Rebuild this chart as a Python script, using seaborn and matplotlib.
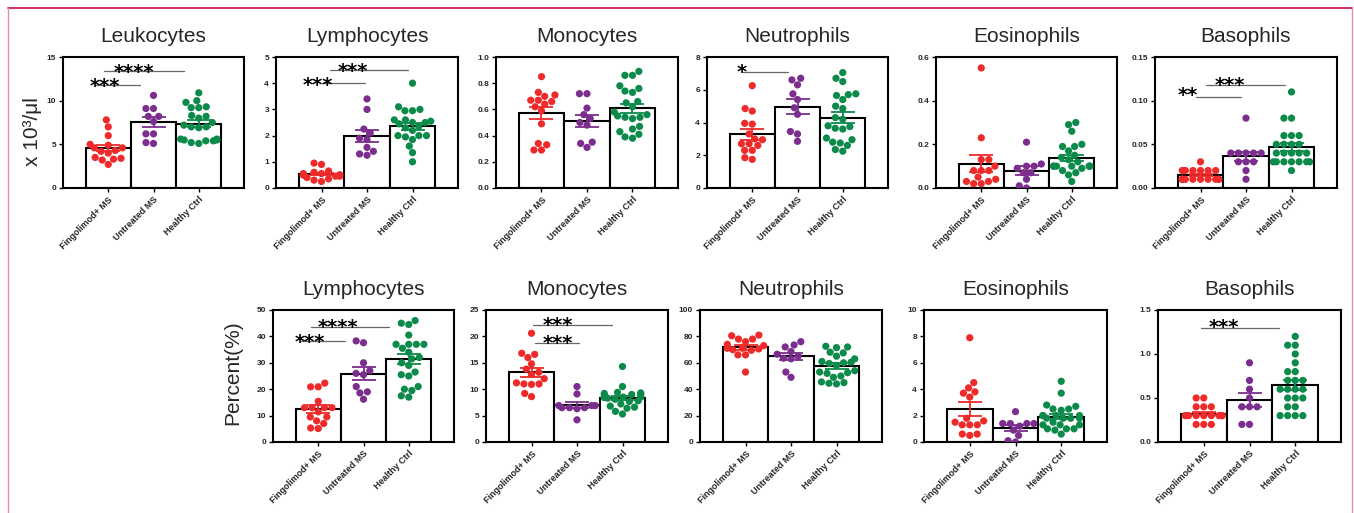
import warnings
import pandas as pd
import matplotlib.pyplot as plt
from matplotlib.lines import Line2D
import seaborn as sns

warnings.filterwarnings("ignore")
sns.set_theme(style="ticks")
plt.rcParams["font.family"] = ["Liberation Sans", "DejaVu Sans"]

GROUPS = ["Fingolimod+ MS", "Untreated MS", "Healthy Ctrl"]
COLORS = {"Fingolimod+ MS": "#ee2a2a", "Untreated MS": "#7b2e8e", "Healthy Ctrl": "#0b8a4a"}

# --- absolute counts (x 10^3/ul) ---
leuk_fingo = [7.8, 7.0, 6.0, 5.0, 4.9, 4.6, 4.6, 4.3, 4.2, 4.0, 3.5, 3.4, 3.2, 3.3, 2.7]
leuk_untr = [10.6, 9.1, 9.1, 8.2, 8.2, 7.6, 6.2, 6.2, 5.1, 5.2]
leuk_hc = [10.9, 10.0, 9.8, 9.3, 9.2, 9.2, 8.3, 8.2, 8.0, 7.5, 7.2, 7.0, 6.9, 7.0,
           5.6, 5.5, 5.5, 5.2, 5.1, 5.4, 5.4, 5.6]

lymph_fingo = [0.95, 0.9, 0.65, 0.6, 0.55, 0.55, 0.5, 0.5, 0.5, 0.5, 0.45, 0.45, 0.4, 0.35, 0.3, 0.25]
lymph_untr = [3.4, 3.0, 2.25, 2.1, 1.9, 1.85, 1.55, 1.4, 1.3, 1.25]
lymph_hc = [4.0, 3.1, 3.0, 2.95, 2.95, 2.6, 2.6, 2.55, 2.5, 2.5, 2.45, 2.35, 2.3, 2.2,
            2.0, 2.0, 2.0, 1.95, 1.85, 1.6, 1.35, 1.0]

mono_fingo = [0.85, 0.73, 0.71, 0.70, 0.67, 0.67, 0.66, 0.64, 0.62, 0.59, 0.49, 0.34, 0.33, 0.29, 0.29]
mono_untr = [0.72, 0.72, 0.61, 0.56, 0.53, 0.50, 0.48, 0.35, 0.34, 0.31]
mono_hc = [0.89, 0.86, 0.86, 0.78, 0.76, 0.74, 0.73, 0.66, 0.65, 0.62, 0.58, 0.56, 0.55,
           0.54, 0.54, 0.53, 0.47, 0.45, 0.43, 0.41, 0.39, 0.38]

neut_fingo = [6.25, 4.85, 4.7, 3.95, 3.9, 3.3, 3.0, 2.95, 2.7, 2.7, 2.6, 2.3, 2.3, 1.85, 1.75]
neut_untr = [6.7, 6.6, 6.3, 5.75, 5.4, 4.9, 4.5, 3.45, 3.3, 2.85]
neut_hc = [7.05, 6.7, 6.5, 5.75, 5.7, 5.65, 5.4, 5.0, 4.85, 4.3, 4.2, 3.8, 3.75, 3.65,
           3.6, 3.05, 2.95, 2.8, 2.75, 2.6, 2.35, 2.25]

eos_fingo = [0.55, 0.23, 0.13, 0.13, 0.10, 0.08, 0.08, 0.08, 0.05, 0.04, 0.03, 0.03, 0.02, 0.02]
eos_untr = [0.21, 0.11, 0.10, 0.10, 0.09, 0.07, 0.07, 0.04, 0.01, 0.0]
eos_hc = [0.30, 0.29, 0.26, 0.20, 0.19, 0.19, 0.17, 0.15, 0.14, 0.13, 0.12, 0.10, 0.10,
          0.10, 0.10, 0.10, 0.10, 0.10, 0.09, 0.08, 0.07, 0.06, 0.03]

baso_fingo = [0.03, 0.02, 0.02, 0.02, 0.02, 0.02, 0.02, 0.01, 0.01, 0.01, 0.01, 0.01,
              0.01, 0.01, 0.01, 0.01, 0.01]
baso_untr = [0.08, 0.04, 0.04, 0.04, 0.04, 0.04, 0.03, 0.03, 0.03, 0.02, 0.01]
baso_hc = [0.11, 0.08, 0.08, 0.06, 0.06, 0.06, 0.05, 0.05, 0.05, 0.05, 0.04, 0.04, 0.04,
           0.04, 0.04, 0.03, 0.03, 0.03, 0.03, 0.03, 0.03, 0.03, 0.02]

# --- percentages ---
lymph_pct_fingo = [22.3, 20.9, 20.9, 15.4, 13.0, 13.0, 13.0, 13.0, 11.4, 9.5, 9.5, 8.0, 7.0, 5.3, 5.1]
lymph_pct_untr = [38.3, 37.6, 30.0, 27.0, 25.5, 26.0, 21.0, 19.0, 18.6, 16.2]
lymph_pct_hc = [46.0, 45.0, 44.5, 40.5, 37.0, 37.0, 37.0, 37.0, 35.5, 34.0, 32.0, 31.5,
                30.0, 29.0, 26.5, 25.5, 25.0, 21.0, 20.0, 19.5, 17.5, 17.0]

mono_pct_fingo = [20.6, 16.8, 16.6, 16.0, 14.8, 13.8, 13.2, 12.8, 12.0, 11.2, 11.0, 11.0, 10.9, 9.2, 8.6]
mono_pct_untr = [10.5, 9.1, 6.9, 6.9, 6.9, 6.5, 6.5, 6.5, 6.3, 4.2]
mono_pct_hc = [14.3, 10.5, 9.4, 9.3, 9.2, 9.1, 9.0, 8.8, 8.6, 8.5, 8.5, 8.4, 8.3, 8.1,
               7.8, 7.7, 7.2, 6.8, 6.6, 6.4, 5.8, 5.3]

neut_pct_fingo = [81, 80.5, 78, 78, 76, 74, 73, 71, 71, 70.5, 70, 69.5, 66, 66, 53]
neut_pct_untr = [76, 73.5, 72, 68.5, 66.5, 65, 63.5, 63, 53, 49]
neut_pct_hc = [72.5, 72, 71.5, 68, 67.5, 65, 63, 61, 60.5, 60, 59.5, 58, 54, 53, 52.5,
               52, 50, 49, 45.5, 45, 44.5, 44]

eos_pct_fingo = [7.9, 4.5, 4.1, 3.8, 3.7, 3.4, 1.8, 1.6, 1.5, 1.3, 1.3, 1.3, 0.6, 0.6, 0.5]
eos_pct_untr = [2.3, 1.4, 1.4, 1.4, 1.4, 1.2, 0.9, 0.5, 0.1, 0.0]
eos_pct_hc = [4.6, 3.7, 2.8, 2.7, 2.5, 2.5, 2.4, 2.0, 2.0, 2.0, 2.0, 1.8, 1.8, 1.8, 1.8,
              1.5, 1.3, 1.3, 1.3, 1.0, 1.0, 1.0, 0.9, 0.6]

baso_pct_fingo = [0.5, 0.5, 0.4, 0.4, 0.4, 0.3, 0.3, 0.3, 0.3, 0.3, 0.3, 0.3, 0.3, 0.3,
                  0.2, 0.2, 0.2]
baso_pct_untr = [0.9, 0.7, 0.6, 0.5, 0.4, 0.4, 0.4, 0.2, 0.2]
baso_pct_hc = [1.2, 1.1, 1.1, 1.0, 0.9, 0.8, 0.8, 0.7, 0.7, 0.7, 0.6, 0.6, 0.6, 0.6,
               0.5, 0.5, 0.5, 0.4, 0.4, 0.3, 0.3, 0.3, 0.3]

# significance brackets: (x0, x1, y_line, stars, x_text, y_text) in data units
W, H = 1354, 513
TOP, BOT = (57, 188), (310, 442)

panels = [
    ("Leukocytes", (leuk_fingo, leuk_untr, leuk_hc), [0, 5, 10, 15], "{:.0f}", (63, 244), TOP,
     [(-0.3, 0.7, 11.8, "***", -0.07, 12.3), (-0.09, 1.67, 13.4, "****", 0.56, 13.9)]),
    ("Lymphocytes", (lymph_fingo, lymph_untr, lymph_hc), [0, 1, 2, 3, 4, 5], "{:.0f}", (276, 458), TOP,
     [(0.0, 0.96, 3.99, "***", -0.07, 4.15), (0.18, 1.91, 4.49, "***", 0.69, 4.68)]),
    ("Monocytes", (mono_fingo, mono_untr, mono_hc), [0, 0.2, 0.4, 0.6, 0.8, 1.0], "{:.1f}", (496, 678), TOP, []),
    ("Neutrophils", (neut_fingo, neut_untr, neut_hc), [0, 2, 4, 6, 8], "{:.0f}", (707, 888), TOP,
     [(-0.2, 0.79, 7.09, "*", -0.24, 7.4)]),
    ("Eosinophils", (eos_fingo, eos_untr, eos_hc), [0, 0.2, 0.4, 0.6], "{:.1f}", (936, 1117), TOP, []),
    ("Basophils", (baso_fingo, baso_untr, baso_hc), [0, 0.05, 0.10, 0.15], "{:.2f}", (1155, 1337), TOP,
     [(-0.09, 0.90, 0.1037, "**", -0.27, 0.113), (0.13, 1.85, 0.1177, "***", 0.65, 0.1246)]),
    ("Lymphocytes", (lymph_pct_fingo, lymph_pct_untr, lymph_pct_hc), [0, 10, 20, 30, 40, 50], "{:.0f}", (273, 454), BOT,
     [(-0.38, 0.6, 38.2, "***", -0.18, 40.1), (-0.16, 1.56, 43.7, "****", 0.44, 45.6)]),
    ("Monocytes", (mono_pct_fingo, mono_pct_untr, mono_pct_hc), [0, 5, 10, 15, 20, 25], "{:.0f}", (486, 668), BOT,
     [(0.04, 1.78, 22.15, "***", 0.58, 23.3), (0.07, 1.05, 18.7, "***", 0.58, 19.8)]),
    ("Neutrophils", (neut_pct_fingo, neut_pct_untr, neut_pct_hc), [0, 20, 40, 60, 80, 100], "{:.0f}", (700, 882), BOT, []),
    ("Eosinophils", (eos_pct_fingo, eos_pct_untr, eos_pct_hc), [0, 2, 4, 6, 8, 10], "{:.0f}", (924, 1107), BOT, []),
    ("Basophils", (baso_pct_fingo, baso_pct_untr, baso_pct_hc), [0, 0.5, 1.0, 1.5], "{:.1f}", (1158, 1341), BOT,
     [(-0.07, 1.65, 1.30, "***", 0.44, 1.37)]),
]

fig = plt.figure(figsize=(W / 100, H / 100), dpi=100)

for title, series, yticks, fmt, (left, right), (top, bottom), sigs in panels:
    ax = fig.add_axes([left / W, 1 - bottom / H, (right - left) / W, (bottom - top) / H])
    df = pd.DataFrame({
        "group": [g for g, vals in zip(GROUPS, series) for _ in vals],
        "value": [v for vals in series for v in vals],
    })

    sns.barplot(data=df, x="group", y="value", order=GROUPS, errorbar=None, color="white",
                edgecolor="black", linewidth=1.5, width=1.0, saturation=1, ax=ax, zorder=1)
    sns.swarmplot(data=df, x="group", y="value", order=GROUPS, hue="group", hue_order=GROUPS,
                  palette=COLORS, size=5.2, legend=False, ax=ax, zorder=3)

    stats = df.groupby("group")["value"].agg(["mean", "sem"]).reindex(GROUPS)
    for i, g in enumerate(GROUPS):
        ax.errorbar(i, stats.loc[g, "mean"], yerr=stats.loc[g, "sem"], fmt="none",
                    ecolor=COLORS[g], elinewidth=1.3, capsize=8.5, capthick=1.3, zorder=4)

    for x0, x1, yl, stars, xt, yt in sigs:
        ax.plot([x0, x1], [yl, yl], color="#666666", lw=0.9, zorder=5)
        ax.annotate(stars, (xt, yt), xytext=(0, -0.6 * 14), textcoords="offset points",
                    ha="center", va="baseline", fontsize=14, fontweight="bold",
                    family="DejaVu Sans", color="black", zorder=5)

    ax.set_xlim(-1, 3)
    ax.set_ylim(0, yticks[-1])
    ax.set_yticks(yticks)
    ax.set_yticklabels([fmt.format(t) for t in yticks], fontsize=6, fontweight="bold")
    ax.set_xticks([0, 1, 2])
    ax.set_xticklabels(GROUPS, rotation=45, ha="right", va="top", rotation_mode="anchor",
                       fontsize=6.5, fontweight="bold")
    ax.tick_params(axis="both", length=3, width=1, color="black", pad=2)
    ax.set_xlabel("")
    ax.set_ylabel("")
    ax.set_title(title, fontsize=15, pad=11)
    for s in ax.spines.values():
        s.set_linewidth(1.5)
        s.set_color("black")

fig.text(33 / W, 1 - 132 / H, "x 10³/μl", rotation=90, ha="center", va="center", fontsize=15)
fig.text(233 / W, 1 - 373 / H, "Percent(%)", rotation=90, ha="center", va="center", fontsize=15)

# pink frame around the figure
fig.add_artist(Line2D([8 / W, 1352 / W], [1 - 8 / H, 1 - 8 / H], color="#d81b60", lw=1.3))
fig.add_artist(Line2D([8 / W, 8 / W], [0, 1 - 8 / H], color="#e88cb0", lw=1.0))
fig.add_artist(Line2D([1352 / W, 1352 / W], [0, 1 - 8 / H], color="#e88cb0", lw=1.0))

fig.savefig("out.png", dpi=100)
